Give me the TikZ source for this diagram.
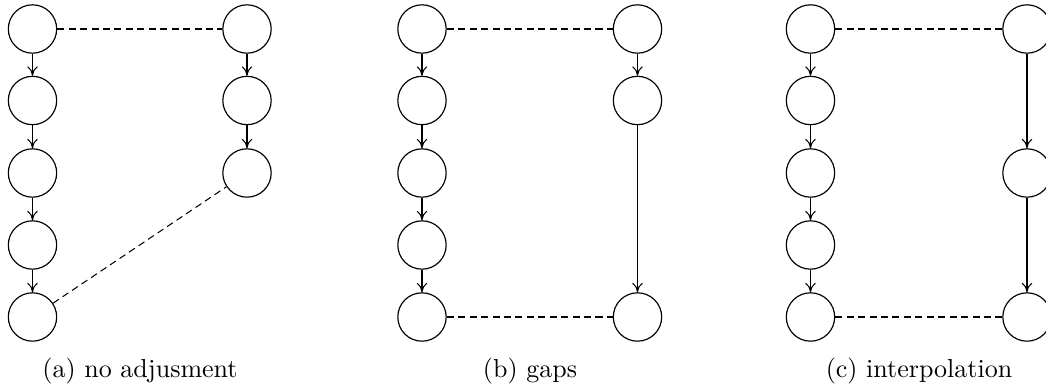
\documentclass[tikz,border=0pt]{standalone}
\usetikzlibrary{arrows.meta}
\begin{document}
\begin{tikzpicture}[x=0.3846pt,y=-0.3846pt,
  st/.style={circle,draw,line width=0.45pt,inner sep=0pt,minimum size=18.6pt},
  arr/.style={-{To[length=3.6pt,width=4pt]},line width=0.4pt},
  dsh/.style={line width=0.4pt,dash pattern=on 2.7pt off 1.7pt},
  captext/.style={anchor=base,font=\normalsize}]
\useasboundingbox (0,0) rectangle (1046,390);
% (a)
\foreach \i/\y in {1/29,2/100.5,3/173,4/245,5/317}{\node[st] (aL\i) at (32.5,\y) {};}
\node[st] (aR1) at (247,29) {};
\node[st] (aR2) at (247,100.5) {};
\node[st] (aR3) at (247,173) {};
\draw[arr] (aL1) -- (aL2);
\draw[arr] (aL2) -- (aL3);
\draw[arr] (aL3) -- (aL4);
\draw[arr] (aL4) -- (aL5);
\draw[arr] (aR1) -- (aR2);
\draw[arr] (aR2) -- (aR3);
\draw[dsh] (aL1) -- (aR1);
\draw[dsh] (aL5) -- (aR3);
\node[captext] (capa) at (140,378) {(a) no adjusment};
% (b)
\foreach \i/\y in {1/29,2/100.5,3/173,4/245,5/317}{\node[st] (bL\i) at (422,\y) {};}
\node[st] (bR1) at (637.5,29) {};
\node[st] (bR2) at (637.5,100.5) {};
\node[st] (bR5) at (637.5,317) {};
\draw[arr] (bL1) -- (bL2);
\draw[arr] (bL2) -- (bL3);
\draw[arr] (bL3) -- (bL4);
\draw[arr] (bL4) -- (bL5);
\draw[arr] (bR1) -- (bR2);
\draw[arr] (bR2) -- (bR5);
\draw[dsh] (bL1) -- (bR1);
\draw[dsh] (bL5) -- (bR5);
\node[captext] (capb) at (530,378) {(b) gaps};
% (c)
\foreach \i/\y in {1/29,2/100.5,3/173,4/245,5/317}{\node[st] (cL\i) at (810.5,\y) {};}
\node[st] (cR1) at (1027,29) {};
\node[st] (cR3) at (1027,173) {};
\node[st] (cR5) at (1027,317) {};
\draw[arr] (cL1) -- (cL2);
\draw[arr] (cL2) -- (cL3);
\draw[arr] (cL3) -- (cL4);
\draw[arr] (cL4) -- (cL5);
\draw[arr] (cR1) -- (cR3);
\draw[arr] (cR3) -- (cR5);
\draw[dsh] (cL1) -- (cR1);
\draw[dsh] (cL5) -- (cR5);
\node[captext] (capc) at (919,378) {(c) interpolation};
\end{tikzpicture}
\end{document}
